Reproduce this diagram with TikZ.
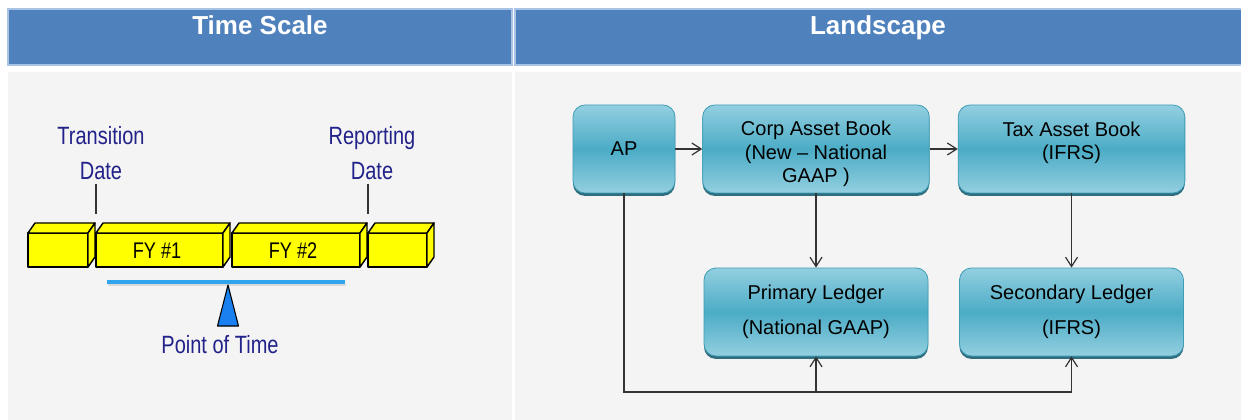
\documentclass[tikz,border=0pt]{standalone}
\usepackage{fontspec}
\setmainfont{Liberation Sans}
\newfontfamily\narrowf[FakeStretch=0.8]{Liberation Sans}
\usetikzlibrary{arrows.meta,shadows}
\definecolor{hdr}{HTML}{4F81BD}
\definecolor{hdredge}{HTML}{A8C3E3}
\definecolor{bodybg}{HTML}{F4F4F4}
\definecolor{navy}{HTML}{22228A}
\definecolor{boxlight}{HTML}{93CFE0}
\definecolor{boxmid}{HTML}{4BACC6}
\definecolor{boxedge}{HTML}{3F9CB5}
\definecolor{boxshadow}{HTML}{2F6E7E}
\definecolor{barblue}{HTML}{30A5EE}
\definecolor{triblue}{HTML}{1A7FEF}
\definecolor{conncol}{HTML}{333333}
\definecolor{blockyellow}{HTML}{FFFF00}
\begin{document}
\begin{tikzpicture}[x=0.75pt,y=-0.75pt,
  hdrbox/.style={fill=hdr,draw=hdredge,line width=0.8pt},
  hdrtext/.style={text=white,font=\fontsize{19.5}{22}\selectfont\bfseries,anchor=base,inner sep=0pt},
  lefttext/.style={text=navy,font=\narrowf\fontsize{18.75}{20}\selectfont,anchor=base,inner sep=0pt},
  fytext/.style={text=black,font=\narrowf\fontsize{17}{18}\selectfont,anchor=base,inner sep=0pt},
  blockst/.style={fill=blockyellow,draw=black,line width=1.1pt,line join=round},
  tickst/.style={draw=black!80,line width=0.8pt},
  flowbox/.style={rounded corners=9pt,draw=boxedge,line width=0.6pt,
    top color=boxlight,bottom color=boxlight,middle color=boxmid,
    drop shadow={shadow xshift=0pt,shadow yshift=-2.2pt,fill=boxshadow,opacity=1},
    inner sep=0pt,align=center,font=\fontsize{15}{17.5}\selectfont,text=black},
  conn/.style={draw=conncol,line width=0.9pt,-{Straight Barb[length=7pt,width=9pt,line width=0.9pt]}}
]
\useasboundingbox (0,0) rectangle (1241,420);
\fill[white] (0,0) rectangle (1241,420);
% headers
\draw[hdrbox] (8,9) rectangle (512,65);
\draw[hdrbox] (515,9) rectangle (1245,65);
\node[hdrtext] (h1) at (260,35) {Time Scale};
\node[hdrtext] (h2) at (878,35) {Landscape};
% bodies
\fill[bodybg] (8,72) rectangle (512,420);
\fill[bodybg] (515,72) rectangle (1241,420);

% ---- left panel: time scale ----
\node[lefttext] (trans) at (101,145) {Transition};
\node[lefttext] (tdate) at (101,180) {Date};
\node[lefttext] (rep) at (372,145) {Reporting};
\node[lefttext] (rdate) at (372,180) {Date};
\draw[tickst] (96,184) -- (96,214);
\draw[tickst] (368,184) -- (368,214);
\foreach \xa/\xb in {28/88,96/223,232/360,368/427}{
  \filldraw[blockst] (\xa,233) rectangle (\xb,267);
  \filldraw[blockst] (\xa,233) -- (\xa+7,223) -- (\xb+7,223) -- (\xb,233) -- cycle;
  \filldraw[blockst] (\xb,233) -- (\xb+7,223) -- (\xb+7,257) -- (\xb,267) -- cycle;
}
\node[fytext] (fy1) at (157,258) {FY \#1};
\node[fytext] (fy2) at (293,258) {FY \#2};
\draw[black!15,line width=1.5pt] (108,285) -- (346,285);
\draw[barblue,line width=3pt] (107,282) -- (345,282);
\filldraw[fill=triblue,draw=black,line width=0.8pt,line join=round] (228,285) -- (238.5,326) -- (217.5,326) -- cycle;
\node[lefttext] (pot) at (220,353) {Point of Time};

% ---- right panel: landscape ----
\node[flowbox,minimum width=76.5pt,minimum height=66pt] (ap) at (624,149) {AP};
\node[flowbox,minimum width=170pt,minimum height=66pt] (corp) at (816,149) {\rule{0pt}{18.5pt}Corp Asset Book\\(New -- National\\GAAP )};
\node[flowbox,minimum width=170pt,minimum height=66pt] (tax) at (1071.5,149) {\rule{0pt}{21.5pt}Tax Asset Book\\(IFRS)\\\strut};
\node[flowbox,minimum width=168pt,minimum height=66pt] (prim) at (816,312) {Primary Ledger\\[9pt](National GAAP)};
\node[flowbox,minimum width=168pt,minimum height=66pt] (sec) at (1071.5,312) {Secondary Ledger\\[9pt](IFRS)};

\draw[conn] (ap) -- (corp);
\draw[conn] (corp) -- (tax);
\draw[conn] (corp) -- (prim);
\draw[conn] (tax) -- (sec);
\coordinate (bus) at (624,392);
\draw[conn] (ap.south) |- (bus -| sec.south) -- (sec.south);
\draw[conn] (bus -| prim.south) -- (prim.south);
\end{tikzpicture}
\end{document}
